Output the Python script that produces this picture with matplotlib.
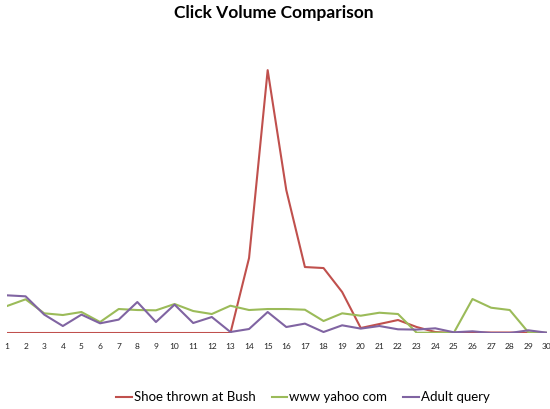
import matplotlib.pyplot as plt

plt.rcParams['font.family'] = ['Lato', 'DejaVu Sans']

days = list(range(1, 31))

# click volume per day (relative units)
shoe_bush = [0, 0, 0, 0, 0, 0, 0, 0, 0, 0, 0, 0, 0, 75, 263,
             143, 66, 65, 41, 5, 9, 13, 6, 1, 0, 0.5, 0.5, 0.5, 0, 0]
yahoo = [27, 33.7, 19.7, 18, 21, 11, 24, 23, 22.7, 29, 22, 19, 27.3, 23, 24,
         24, 23.3, 12, 19.7, 17.3, 20.3, 19, 0.3, 0.3, 0.3, 34, 25.3, 23, 0.7, 0.3]
adult = [37.7, 36.7, 18.4, 7, 18.4, 9.7, 13.4, 31, 11, 28.4, 10, 16, 1, 4, 21,
         6, 9.4, 1, 7.7, 4.4, 7, 3.7, 3.4, 4.7, 0.7, 1.7, 0, 0, 2.7, 0.3]

fig = plt.figure(figsize=(5.5, 4.09), dpi=100)
ax = fig.add_axes([0.0127, 0.1858, 0.9818, 0.716])

ax.plot(days, shoe_bush, color='#C0504D', lw=1.5, label='Shoe thrown at Bush')
ax.plot(days, yahoo, color='#9BBB59', lw=1.5, label='www yahoo com')
ax.plot(days, adult, color='#8064A2', lw=1.5, label='Adult query')

ax.set_xlim(1, 30)
ax.set_ylim(0, 293)
ax.set_xticks(days)
ax.set_xticklabels([str(d) for d in days], fontsize=6, color='#222222')
ax.tick_params(axis='x', length=0, pad=7)
ax.set_yticks([])
for s in ax.spines.values():
    s.set_visible(False)

fig.text(0.497, 0.968, 'Click Volume Comparison', ha='center', va='center',
         fontsize=12.5, fontweight='bold')

fig.legend(loc='center', bbox_to_anchor=(0.551, 0.029), ncol=3, frameon=False,
           fontsize=9.5, handlelength=1.2, handletextpad=0.15, columnspacing=1.2)

fig.savefig('out.png', dpi=100)
